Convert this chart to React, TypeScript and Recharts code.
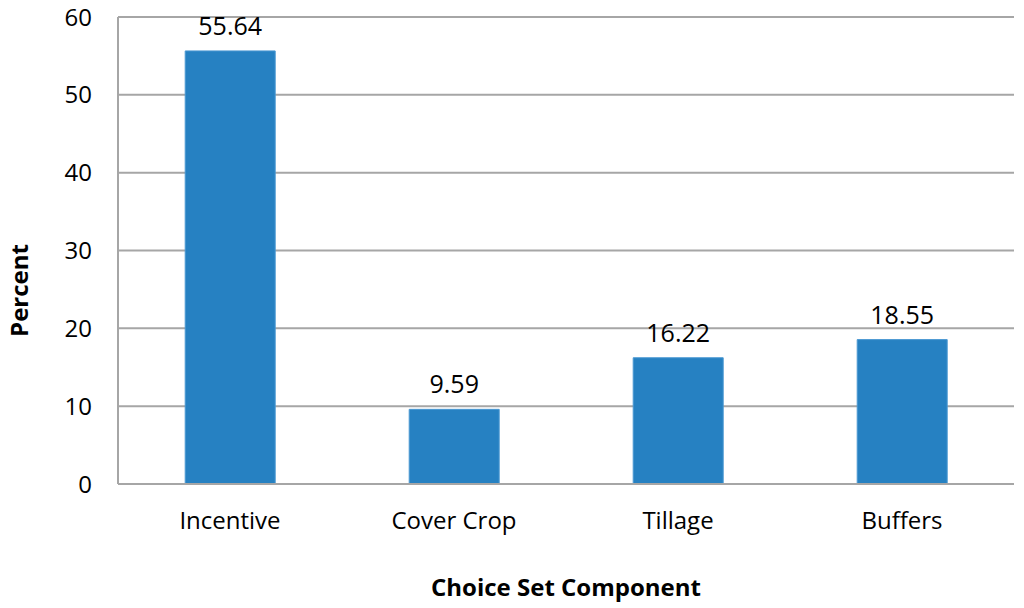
import React from 'react';
import { BarChart, Bar, XAxis, YAxis, CartesianGrid, LabelList, Label } from 'recharts';

const categories = ['Incentive', 'Cover Crop', 'Tillage', 'Buffers'];
const percents = [55.64, 9.59, 16.22, 18.55];
const yTicks = [0, 10, 20, 30, 40, 50, 60];

const data = categories.map((c, i) => ({ name: c, value: percents[i] }));

const FONT = '"Open Sans", sans-serif';

export default function App() {
  return (
    <div style={{ position: 'absolute', left: 0, top: 0, width: 1024, height: 608, background: '#fff' }}>
      <BarChart
        width={1024}
        height={608}
        data={data}
        margin={{ top: 17, right: 10, bottom: 94, left: 0 }}
        barCategoryGap="30%"
      >
        <CartesianGrid vertical={false} stroke="#a6a6a6" strokeWidth={2} />
        <XAxis
          dataKey="name"
          height={30}
          axisLine={{ stroke: '#a6a6a6', strokeWidth: 2 }}
          tickLine={false}
          tickSize={0}
          tickMargin={28}
          tick={{ fontSize: 24, fill: '#000', fontFamily: FONT }}
        >
          <Label
            value="Choice Set Component"
            position="bottom"
            offset={65}
            style={{ fontSize: 24, fontWeight: 'bold', fill: '#000', fontFamily: FONT }}
          />
        </XAxis>
        <YAxis
          width={118}
          domain={[0, 60]}
          ticks={yTicks}
          axisLine={{ stroke: '#a6a6a6', strokeWidth: 2 }}
          tickLine={false}
          tickSize={0}
          tickMargin={26}
          tick={{ fontSize: 24, fill: '#000', fontFamily: FONT }}
        >
          <Label
            content={(props: any) => {
              const vb = props.viewBox || {};
              const x = 18;
              const y = vb.y + vb.height / 2 + 40;
              return (
                <text
                  x={x}
                  y={y}
                  transform={`rotate(-90, ${x}, ${y})`}
                  textAnchor="middle"
                  dominantBaseline="central"
                  style={{ fontSize: 24, fontWeight: 'bold', fill: '#000', fontFamily: FONT }}
                >
                  Percent
                </text>
              );
            }}
          />
        </YAxis>
        <Bar dataKey="value" fill="#2681c2" stroke="#4a98d3" strokeWidth={1} isAnimationActive={false}>
          <LabelList
            dataKey="value"
            position="top"
            offset={16}
            formatter={(v: any) => Number(v).toFixed(2)}
            style={{ fontSize: 25, fill: '#000', fontFamily: FONT }}
          />
        </Bar>
      </BarChart>
    </div>
  );
}
